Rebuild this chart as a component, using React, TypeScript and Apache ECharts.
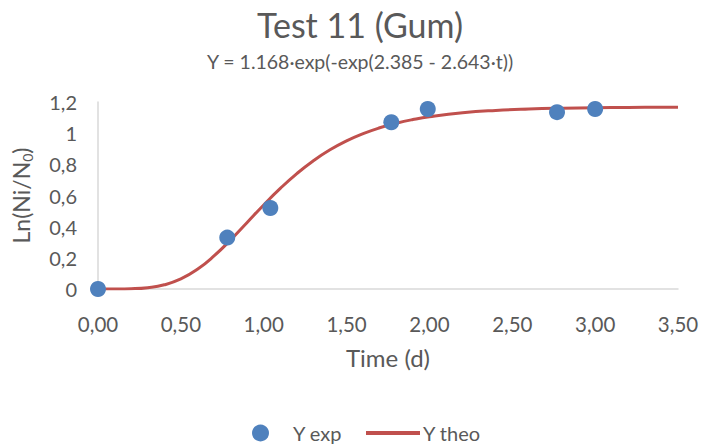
import React, { useEffect, useRef } from "react";
import * as echarts from "echarts";

const titleText = "Test 11 (Gum)";
const subtitleText = "Y = 1.168·exp(-exp(2.385 - 2.643·t))";
const xAxisName = "Time (d)";

// Experimental points [t, Y]
const expT = [0.0, 0.78, 1.04, 1.77, 1.99, 2.77, 3.0];
const expY = [0.0, 0.33, 0.52, 1.07, 1.155, 1.135, 1.155];

// Theoretical curve [t, Y]
const theoT = [0, 0.1, 0.2, 0.3, 0.4, 0.5, 0.6, 0.7, 0.8, 0.9, 1.0, 1.1, 1.2, 1.3, 1.4, 1.5, 1.6, 1.7, 1.8, 1.9, 2.0, 2.2, 2.4, 2.6, 2.8, 3.0, 3.2, 3.4, 3.5];
const theoY = [0.0, 0.0003, 0.0019, 0.0086, 0.0268, 0.0645, 0.1264, 0.2119, 0.3149, 0.4269, 0.5394, 0.6453, 0.7408, 0.8233, 0.8931, 0.9505, 0.9971, 1.0344, 1.0639, 1.0873, 1.1055, 1.1307, 1.1459, 1.1549, 1.1603, 1.1634, 1.1653, 1.1664, 1.1667];

const FONT = "Lato";
const TXT = "#595959";

export default function App() {
  const ref = useRef<HTMLDivElement>(null);
  useEffect(() => {
    if (!ref.current) return;
    const chart = echarts.init(ref.current, undefined, { renderer: "svg" });
    chart.setOption({
      animation: false,
      backgroundColor: "#ffffff",
      textStyle: { fontFamily: FONT, color: TXT },
      title: [
        {
          text: titleText,
          left: "center",
          top: 2,
          textStyle: { fontFamily: FONT, fontSize: 34, fontWeight: "normal", color: TXT },
        },
        {
          text: subtitleText,
          left: "center",
          top: 46,
          textStyle: { fontFamily: FONT, fontSize: 19.5, fontWeight: "normal", color: TXT },
        },
      ],
      grid: { left: 98, right: 42, top: 102, bottom: 157, containLabel: false },
      legend: [
        {
          data: [{ name: "Y exp", icon: "circle" }],
          left: 247,
          top: 418,
          itemWidth: 17,
          itemHeight: 17,
          textStyle: { fontFamily: FONT, fontSize: 20, color: TXT, padding: [0, 0, 0, 19] },
        },
        {
          data: [{ name: "Y theo", icon: "rect" }],
          left: 361,
          top: 418,
          itemWidth: 54,
          itemHeight: 4,
          textStyle: { fontFamily: FONT, fontSize: 20, color: TXT, padding: [0, 0, 0, -2] },
        },
      ],
      xAxis: {
        type: "value",
        min: 0,
        max: 3.5,
        interval: 0.5,
        name: xAxisName,
        nameLocation: "middle",
        nameGap: 56,
        nameTextStyle: { fontFamily: FONT, fontSize: 24, color: TXT },
        axisLine: { show: true, onZero: false, lineStyle: { color: "#D9D9D9", width: 1.5 } },
        axisTick: { show: false },
        splitLine: { show: false },
        axisLabel: {
          margin: 24,
          fontFamily: FONT,
          fontSize: 20.5,
          color: TXT,
          formatter: (v: number) => v.toFixed(2).replace(".", ","),
        },
      },
      yAxis: {
        type: "value",
        min: 0,
        max: 1.2,
        interval: 0.2,
        name: "{a|Ln(Ni/N}{b|0}{a|)}",
        nameLocation: "middle",
        nameGap: 64,
        nameTextStyle: {
          fontFamily: FONT,
          color: TXT,
          rich: {
            a: { fontFamily: FONT, fontSize: 23, color: TXT },
            b: { fontFamily: FONT, fontSize: 14, color: TXT, padding: [12, 0, 0, 0] },
          },
        },
        axisLine: { show: true, lineStyle: { color: "#D9D9D9", width: 1.5 } },
        axisTick: { show: false },
        splitLine: { show: false },
        axisLabel: {
          margin: 21,
          fontFamily: FONT,
          fontSize: 20,
          color: TXT,
          formatter: (v: number) => String(Math.round(v * 10) / 10).replace(".", ","),
        },
      },
      series: [
        {
          name: "Y theo",
          type: "line",
          data: theoT.map((t, i) => [t, theoY[i]]),
          smooth: true,
          showSymbol: false,
          symbol: "none",
          lineStyle: { color: "#C0504D", width: 3 },
          itemStyle: { color: "#C0504D" },
          z: 2,
        },
        {
          name: "Y exp",
          type: "scatter",
          data: expT.map((t, i) => [t, expY[i]]),
          symbol: "circle",
          symbolSize: 16,
          itemStyle: { color: "#4F81BD", opacity: 1 },
          z: 3,
        },
      ],
    });
    return () => chart.dispose();
  }, []);
  return (
    <div
      ref={ref}
      style={{ position: "absolute", left: 0, top: 0, width: 720, height: 446 }}
    />
  );
}
